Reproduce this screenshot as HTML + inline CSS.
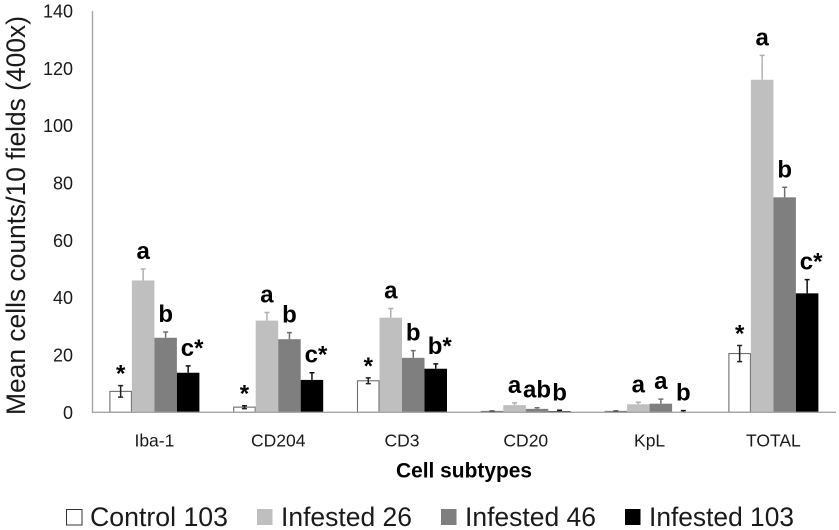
<!DOCTYPE html>
<html>
<head>
<meta charset="utf-8">
<style>
html,body{margin:0;padding:0;background:#fff}
svg{display:block}
text{font-family:"Liberation Sans",sans-serif;fill:#1a1a1a}
</style>
</head>
<body>
<svg id="chart" width="839" height="530" viewBox="0 0 839 530" xmlns="http://www.w3.org/2000/svg">
  <rect width="839" height="530" fill="#fff"/>
  <g id="bars"></g>
  <line x1="92.5" y1="11" x2="92.5" y2="412.3" stroke="#a6a6a6" stroke-width="1.4"/>
  <line x1="92" y1="412.3" x2="836" y2="412.3" stroke="#a6a6a6" stroke-width="1.4"/>
  <g id="ticks"></g>
  <g id="cats"></g>
  <g id="notes"></g>
  <text transform="translate(25,415) rotate(-90)" font-size="27" textLength="399" lengthAdjust="spacingAndGlyphs">Mean cells counts/10 fields (400x)</text>
  <text x="396" y="477.5" font-size="21" font-weight="bold" style="fill:#000" textLength="136" lengthAdjust="spacingAndGlyphs">Cell subtypes</text>
  <g>
    <g>
      <rect x="66.5" y="509.5" width="15.5" height="15.5" fill="#fff" stroke="#333" stroke-width="1"/>
      <text x="90" y="526" font-size="27" textLength="138" lengthAdjust="spacingAndGlyphs">Control 103</text>
    </g>
    <g>
      <rect x="257" y="509" width="15.5" height="16" fill="#bfbfbf"/>
      <text x="281" y="526" font-size="27" textLength="131" lengthAdjust="spacingAndGlyphs">Infested 26</text>
    </g>
    <g>
      <rect x="441" y="509" width="15.5" height="16" fill="#7f7f7f"/>
      <text x="465" y="526" font-size="27" textLength="131" lengthAdjust="spacingAndGlyphs">Infested 46</text>
    </g>
    <g>
      <rect x="625" y="509" width="15.5" height="16" fill="#000"/>
      <text x="649" y="526" font-size="27" textLength="145" lengthAdjust="spacingAndGlyphs">Infested 103</text>
    </g>
  </g>
</svg>
<script>
const categories = ["Iba-1", "CD204", "CD3", "CD20", "KpL", "TOTAL"];
const control103 = [7.3, 1.8, 11, 0.3, 0.3, 20.5];
const infested26 = [46, 32, 33, 2.5, 2.8, 116];
const infested46 = [26, 25.5, 19, 1.2, 3, 75];
const infested103 = [13.8, 11.3, 15.2, 0.4, 0.1, 41.5];
const control103Err = [2, 0.5, 1, 0.1, 0.1, 2.8];
const infested26Err = [4, 2.8, 3.2, 0.8, 0.7, 8.5];
const infested46Err = [2, 2.3, 2.5, 0.4, 1.6, 3.5];
const infested103Err = [2.4, 2.5, 1.7, 0.3, 0.5, 4.8];
const control103Notes = ["*", "*", "*", "", "", "*"];
const infested26Notes = ["a", "a", "a", "a", "a", "a"];
const infested46Notes = ["b", "b", "b", "ab", "a", "b"];
const infested103Notes = ["c*", "c*", "b*", "b", "b", "c*"];
const yTicks = [0, 20, 40, 60, 80, 100, 120, 140];

const NS = "http://www.w3.org/2000/svg";
const series = [
  {key: "control-103", values: control103, errs: control103Err, notes: control103Notes, fill: "#fff", stroke: "#6e6e6e", err: "#222"},
  {key: "infested-26", values: infested26, errs: infested26Err, notes: infested26Notes, fill: "#bfbfbf", stroke: "none", err: "#b0b0b0"},
  {key: "infested-46", values: infested46, errs: infested46Err, notes: infested46Notes, fill: "#7f7f7f", stroke: "none", err: "#707070"},
  {key: "infested-103", values: infested103, errs: infested103Err, notes: infested103Notes, fill: "#000", stroke: "none", err: "#111"}
];
const y = v => 412.3 - v * (401.3 / 140);
const groupX = i => 92.5 + 123.8 * i;
const barW = 22.5;
const barX = (i, s) => groupX(i) + 16.9 + s * barW;

function make(tag, attrs, parent) {
  const el = document.createElementNS(NS, tag);
  for (const k in attrs) el.setAttribute(k, attrs[k]);
  parent.appendChild(el);
  return el;
}

const barsG = document.getElementById("bars");
const notesG = document.getElementById("notes");
const ticksG = document.getElementById("ticks");
const catsG = document.getElementById("cats");

yTicks.forEach(t => {
  const el = make("text", {x: 73, y: y(t) + 6.5, "font-size": 18, "text-anchor": "end"}, ticksG);
  
  
  el.textContent = t;
});

categories.forEach((c, i) => {
  const el = make("text", {x: groupX(i) + 61.9, y: 446.5, "font-size": 17.5, "text-anchor": "middle"}, catsG);
  
  
  el.textContent = c;
});

series.forEach((s, si) => {
  categories.forEach((c, i) => {
    const v = s.values[i], e = s.errs[i];
    const x = barX(i, si), top = y(v), cx = x + barW / 2;
    const inset = s.stroke === "none" ? 0 : 0.5;
    const bar = make("rect", {x: x + inset, y: top, width: barW - inset * 2, height: y(0) - top, fill: s.fill, stroke: s.stroke, "stroke-width": s.stroke === "none" ? 0 : 1.1}, barsG);
    
    

    const low = si === 0 ? y(v - e) : top;
    const errLine = make("path", {
      d: "M" + cx + " " + low + "V" + y(v + e) + "M" + (cx - 2.5) + " " + y(v + e) + "H" + (cx + 2.5) +
         (si === 0 ? "M" + (cx - 2.5) + " " + low + "H" + (cx + 2.5) : ""),
      stroke: s.err, "stroke-width": 1.5, fill: "none"
    }, barsG);
    
    

    const note = s.notes[i];
    if (note) {
      const isStar = note === "*";
      const tx = note.length > 1 && note.endsWith("*") ? cx + 4 : cx;
      const label = make("text", {x: tx, y: y(v + e) - (isStar ? 4 : 10), "font-size": 24, "font-weight": "bold", "text-anchor": "middle", style: "fill:#000"}, notesG);
      
      
      label.textContent = note;
    }
  });
});
</script>
</body>
</html>
